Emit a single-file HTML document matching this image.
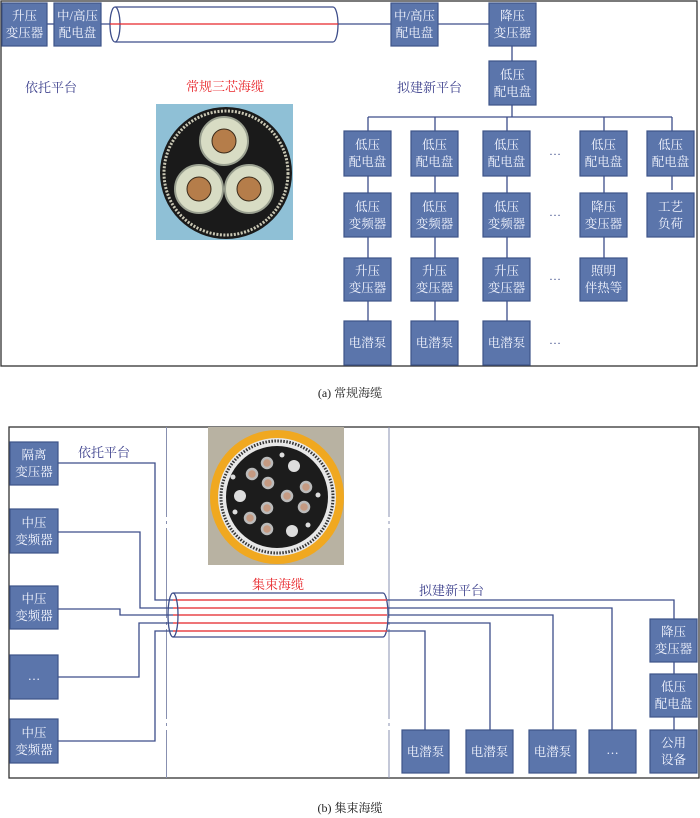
<!DOCTYPE html>
<html><head><meta charset="utf-8"><style>
html,body{margin:0;padding:0;background:#fff}
svg{display:block}
.b{fill:#5b75ab;stroke:#3e5488;stroke-width:1.2}
.t{fill:#f4f6ff;font-family:"Liberation Serif","Noto Serif CJK SC","Noto Sans CJK SC",serif;font-size:12.5px;text-anchor:middle}
.l{stroke:#3d4d8a;stroke-width:1.3;fill:none}
.lab{fill:#3b3f8c;font-family:"Liberation Serif","Noto Serif CJK SC",serif;font-size:13px}
.red{fill:#e8262a;font-family:"Liberation Serif","Noto Serif CJK SC",serif;font-size:13px}
.cap{fill:#222;font-family:"Liberation Serif","Noto Serif CJK SC",serif;font-size:12px;text-anchor:middle}
.d{fill:#3d4d8a;font-family:"Liberation Serif",serif;font-size:12px;text-anchor:middle}
</style></head><body>
<svg width="700" height="818" viewBox="0 0 700 818" xmlns="http://www.w3.org/2000/svg">
<!-- (a) -->
<rect x="1" y="1" width="696" height="365" fill="none" stroke="#333" stroke-width="1.3"/>
<line class="l" x1="47" y1="24" x2="54" y2="24"/>
<line class="l" x1="101" y1="24" x2="391" y2="24"/>
<line class="l" x1="438" y1="24" x2="489" y2="24"/>
<path d="M115,7 H333 A5,17.5 0 0 1 333,42 H115" fill="#fff" stroke="#3d4d8a" stroke-width="1.3"/>
<ellipse cx="115" cy="24.5" rx="5" ry="17.5" fill="#fff" stroke="#3d4d8a" stroke-width="1.3"/>
<line x1="110" y1="24" x2="338" y2="24" stroke="#e8262a" stroke-width="1.3"/>
<rect class="b" x="2" y="3" width="45" height="43"/><text class="t" x="24.5" y="20">升压</text><text class="t" x="24.5" y="37">变压器</text>
<rect class="b" x="54" y="3" width="47" height="43"/><text class="t" x="77.5" y="20">中/高压</text><text class="t" x="77.5" y="37">配电盘</text>
<rect class="b" x="391" y="3" width="47" height="43"/><text class="t" x="414.5" y="20">中/高压</text><text class="t" x="414.5" y="37">配电盘</text>
<rect class="b" x="489" y="3" width="47" height="43"/><text class="t" x="512.5" y="20">降压</text><text class="t" x="512.5" y="37">变压器</text>
<line class="l" x1="512" y1="46" x2="512" y2="61"/>
<rect class="b" x="489" y="61" width="47" height="44"/><text class="t" x="512.5" y="79">低压</text><text class="t" x="512.5" y="96">配电盘</text>
<line class="l" x1="512" y1="105" x2="512" y2="117"/>
<line class="l" x1="368" y1="117" x2="672" y2="117"/>
<g class="l">
<line x1="368" y1="117" x2="368" y2="330"/><line x1="435" y1="117" x2="435" y2="330"/><line x1="507" y1="117" x2="507" y2="330"/>
<line x1="604" y1="117" x2="604" y2="270"/><line x1="672" y1="117" x2="672" y2="190"/>
</g>
<text class="lab" x="25" y="92">依托平台</text>
<text class="red" x="186" y="91">常规三芯海缆</text>
<text class="lab" x="397" y="92">拟建新平台</text>
<!-- photo a -->
<rect x="156" y="104" width="137" height="136" fill="#8fc0d6"/>
<circle cx="226" cy="173" r="66" fill="#1a1a1a"/>
<circle cx="226" cy="173" r="62" fill="none" stroke="#c9c7b4" stroke-width="3" stroke-dasharray="2 1.5"/>
<g fill="#d8dcc4" stroke="#9aa090" stroke-width="2">
<circle cx="224" cy="141" r="24"/><circle cx="199" cy="189" r="24"/><circle cx="249" cy="189" r="24"/></g>
<g fill="#b57d4a" stroke="#3a2a1a" stroke-width="1">
<circle cx="224" cy="141" r="12"/><circle cx="199" cy="189" r="12"/><circle cx="249" cy="189" r="12"/></g>
<!-- grid -->
<g>
<rect class="b" x="344" y="131" width="47" height="45"/><text class="t" x="367.5" y="149">低压</text><text class="t" x="367.5" y="166">配电盘</text>
<rect class="b" x="411" y="131" width="47" height="45"/><text class="t" x="434.5" y="149">低压</text><text class="t" x="434.5" y="166">配电盘</text>
<rect class="b" x="483" y="131" width="47" height="45"/><text class="t" x="506.5" y="149">低压</text><text class="t" x="506.5" y="166">配电盘</text>
<rect class="b" x="580" y="131" width="47" height="45"/><text class="t" x="603.5" y="149">低压</text><text class="t" x="603.5" y="166">配电盘</text>
<rect class="b" x="647" y="131" width="47" height="45"/><text class="t" x="670.5" y="149">低压</text><text class="t" x="670.5" y="166">配电盘</text>

<rect class="b" x="344" y="193" width="47" height="44"/><text class="t" x="367.5" y="211">低压</text><text class="t" x="367.5" y="228">变频器</text>
<rect class="b" x="411" y="193" width="47" height="44"/><text class="t" x="434.5" y="211">低压</text><text class="t" x="434.5" y="228">变频器</text>
<rect class="b" x="483" y="193" width="47" height="44"/><text class="t" x="506.5" y="211">低压</text><text class="t" x="506.5" y="228">变频器</text>
<rect class="b" x="580" y="193" width="47" height="44"/><text class="t" x="603.5" y="211">降压</text><text class="t" x="603.5" y="228">变压器</text>
<rect class="b" x="647" y="193" width="47" height="44"/><text class="t" x="670.5" y="211">工艺</text><text class="t" x="670.5" y="228">负荷</text>

<rect class="b" x="344" y="258" width="47" height="43"/><text class="t" x="367.5" y="275">升压</text><text class="t" x="367.5" y="292">变压器</text>
<rect class="b" x="411" y="258" width="47" height="43"/><text class="t" x="434.5" y="275">升压</text><text class="t" x="434.5" y="292">变压器</text>
<rect class="b" x="483" y="258" width="47" height="43"/><text class="t" x="506.5" y="275">升压</text><text class="t" x="506.5" y="292">变压器</text>
<rect class="b" x="580" y="258" width="47" height="43"/><text class="t" x="603.5" y="275">照明</text><text class="t" x="603.5" y="292">伴热等</text>

<rect class="b" x="344" y="321" width="47" height="44"/><text class="t" x="367.5" y="347">电潜泵</text>
<rect class="b" x="411" y="321" width="47" height="44"/><text class="t" x="434.5" y="347">电潜泵</text>
<rect class="b" x="483" y="321" width="47" height="44"/><text class="t" x="506.5" y="347">电潜泵</text>
</g>
<text class="d" x="555" y="155">…</text><text class="d" x="555" y="216">…</text><text class="d" x="555" y="280">…</text><text class="d" x="555" y="344">…</text>
<text class="cap" x="350" y="397">(a) 常规海缆</text>

<!-- (b) -->
<rect x="9" y="427" width="690" height="351" fill="none" stroke="#333" stroke-width="1.3"/>
<line x1="166.5" y1="427" x2="166.5" y2="778" stroke="#8890b0" stroke-width="1" stroke-dasharray="90 4 3 4"/>
<line x1="389" y1="427" x2="389" y2="778" stroke="#8890b0" stroke-width="1" stroke-dasharray="90 4 3 4"/>
<!-- photo b -->
<rect x="208" y="427" width="136" height="138" fill="#b8b2a2"/>
<circle cx="277" cy="497" r="67" fill="#f0a820"/>
<circle cx="277" cy="497" r="59" fill="#e8e8e8"/>
<circle cx="277" cy="497" r="56" fill="none" stroke="#333" stroke-width="3" stroke-dasharray="1.5 1.5"/>
<circle cx="277" cy="497" r="51" fill="#1c1c1c"/>
<g fill="#c59a82" stroke="#bbb" stroke-width="2.5">
<circle cx="267" cy="463" r="5"/><circle cx="252" cy="474" r="5"/><circle cx="268" cy="483" r="5"/><circle cx="306" cy="487" r="5"/><circle cx="287" cy="496" r="5"/><circle cx="267" cy="508" r="5"/><circle cx="304" cy="507" r="5"/><circle cx="250" cy="518" r="5"/><circle cx="267" cy="529" r="5"/></g>
<g fill="#ddd"><circle cx="294" cy="466" r="6"/><circle cx="240" cy="496" r="6"/><circle cx="292" cy="531" r="6"/><circle cx="233" cy="477" r="2.5"/><circle cx="282" cy="455" r="2.5"/><circle cx="235" cy="512" r="2.5"/><circle cx="308" cy="525" r="2.5"/><circle cx="318" cy="495" r="2.5"/></g>
<!-- lines -->
<g class="l">
<polyline points="58,463 155,463 155,600 174,600"/>
<polyline points="58,532 140,532 140,608 174,608"/>
<polyline points="58,609 120,609 120,615 174,615"/>
<polyline points="58,677 139,677 139,623 174,623"/>
<polyline points="58,741 155,741 155,631 174,631"/>
<polyline points="386,600 674,600 674,619"/>
<polyline points="386,608 612,608 612,730"/>
<polyline points="386,615 553,615 553,730"/>
<polyline points="386,623 490,623 490,730"/>
<polyline points="386,631 425,631 425,730"/>
<line x1="674" y1="662" x2="674" y2="674"/><line x1="674" y1="717" x2="674" y2="730"/>
</g>
<path d="M173,593 H383 A5,22 0 0 1 383,637 H173" fill="#fff" stroke="#3d4d8a" stroke-width="1.3"/>
<g stroke="#e8474a" stroke-width="1.6"><line x1="173" y1="600" x2="387" y2="600"/><line x1="173" y1="608" x2="387" y2="608"/><line x1="173" y1="615" x2="387" y2="615"/><line x1="173" y1="623" x2="387" y2="623"/><line x1="173" y1="631" x2="387" y2="631"/></g>
<ellipse cx="173" cy="615" rx="5" ry="22" fill="none" stroke="#3d4d8a" stroke-width="1.3"/>
<text class="lab" x="78" y="457">依托平台</text>
<text class="red" x="252" y="589">集束海缆</text>
<text class="lab" x="419" y="595">拟建新平台</text>
<rect class="b" x="10" y="442" width="48" height="43"/><text class="t" x="34" y="459">隔离</text><text class="t" x="34" y="476">变压器</text>
<rect class="b" x="10" y="509" width="48" height="44"/><text class="t" x="34" y="527">中压</text><text class="t" x="34" y="544">变频器</text>
<rect class="b" x="10" y="586" width="48" height="43"/><text class="t" x="34" y="603">中压</text><text class="t" x="34" y="620">变频器</text>
<rect class="b" x="10" y="655" width="48" height="44"/><text class="t" x="34" y="680">…</text>
<rect class="b" x="10" y="719" width="48" height="44"/><text class="t" x="34" y="737">中压</text><text class="t" x="34" y="754">变频器</text>
<rect class="b" x="402" y="730" width="47" height="43"/><text class="t" x="425.5" y="756">电潜泵</text>
<rect class="b" x="466" y="730" width="47" height="43"/><text class="t" x="489.5" y="756">电潜泵</text>
<rect class="b" x="529" y="730" width="47" height="43"/><text class="t" x="552.5" y="756">电潜泵</text>
<rect class="b" x="589" y="730" width="47" height="43"/><text class="t" x="612.5" y="754">…</text>
<rect class="b" x="650" y="619" width="47" height="43"/><text class="t" x="673.5" y="636">降压</text><text class="t" x="673.5" y="653">变压器</text>
<rect class="b" x="650" y="674" width="47" height="43"/><text class="t" x="673.5" y="691">低压</text><text class="t" x="673.5" y="708">配电盘</text>
<rect class="b" x="650" y="730" width="47" height="43"/><text class="t" x="673.5" y="747">公用</text><text class="t" x="673.5" y="764">设备</text>
<text class="cap" x="350" y="812">(b) 集束海缆</text>
</svg>
</body></html>
